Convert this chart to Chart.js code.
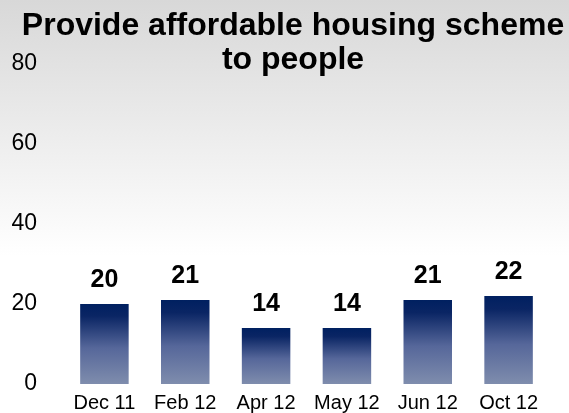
<!DOCTYPE html>
<html>
<head>
<meta charset="utf-8">
<script src="https://cdn.jsdelivr.net/npm/chart.js@4"></script>
<style>
  html, body { margin: 0; padding: 0; background: #fff; overflow: hidden; }
  canvas { display: block; }
</style>
</head>
<body>
<canvas id="chart" width="569" height="413"></canvas>
<script>
var categories = ['Dec 11', 'Feb 12', 'Apr 12', 'May 12', 'Jun 12', 'Oct 12'];
var values = [20, 21, 14, 14, 21, 22];
var yTicks = [0, 20, 40, 60, 80];
var titleLines = ['Provide affordable housing scheme', 'to people'];

var fontFamily = '"Liberation Sans", Arial, sans-serif';

var backgroundPlugin = {
  id: 'bgGradient',
  beforeDraw: function (chart) {
    var ctx = chart.ctx;
    var g = ctx.createLinearGradient(0, 0, 0, chart.height);
    g.addColorStop(0, '#d8d8d8');
    g.addColorStop(0.62, '#ffffff');
    g.addColorStop(1, '#ffffff');
    ctx.save();
    ctx.fillStyle = g;
    ctx.fillRect(0, 0, chart.width, chart.height);
    ctx.restore();
  }
};

var titlePlugin = {
  id: 'twoLineTitle',
  afterDraw: function (chart) {
    var ctx = chart.ctx;
    ctx.save();
    ctx.fillStyle = '#000';
    ctx.font = 'bold 32px ' + fontFamily;
    ctx.textAlign = 'center';
    ctx.textBaseline = 'alphabetic';
    ctx.fillText(titleLines[0], 293, 35);
    ctx.fillText(titleLines[1], 293, 69);
    ctx.restore();
  }
};

var valueLabelPlugin = {
  id: 'valueLabels',
  afterDatasetsDraw: function (chart) {
    var ctx = chart.ctx;
    var meta = chart.getDatasetMeta(0);
    ctx.save();
    ctx.fillStyle = '#000';
    ctx.font = 'bold 25px ' + fontFamily;
    ctx.textAlign = 'center';
    ctx.textBaseline = 'alphabetic';
    meta.data.forEach(function (bar, i) {
      ctx.fillText(String(values[i]), bar.x, bar.y - 17);
    });
    ctx.restore();
  }
};

// each bar gets its own dark-top gradient
function barGradient(context) {
  var chart = context.chart;
  var y = chart.scales && chart.scales.y;
  if (!chart.chartArea || !y || context.raw === undefined) {
    return '#1a2f6b';
  }
  var top = y.getPixelForValue(context.raw);
  var bottom = y.getPixelForValue(0);
  if (!isFinite(top) || !isFinite(bottom) || top === bottom) {
    return '#1a2f6b';
  }
  var g = chart.ctx.createLinearGradient(0, top, 0, bottom);
  g.addColorStop(0, '#002060');
  g.addColorStop(0.15, '#0a2564');
  g.addColorStop(0.55, '#56679a');
  g.addColorStop(1, '#7f8dad');
  return g;
}

new Chart(document.getElementById('chart'), {
  type: 'bar',
  data: {
    labels: categories,
    datasets: [{
      data: values,
      backgroundColor: barGradient,
      borderWidth: 0,
      barPercentage: 0.6,
      categoryPercentage: 1
    }]
  },
  options: {
    responsive: false,
    animation: false,
    layout: { padding: { top: 64, right: 20, left: 0, bottom: 0 } },
    plugins: {
      legend: { display: false },
      title: { display: false },
      tooltip: { enabled: false }
    },
    scales: {
      x: {
        grid: { display: false, drawTicks: false },
        border: { display: false },
        afterFit: function (scale) {
          scale.height = 29;
        },
        ticks: {
          color: '#000',
          font: { family: fontFamily, size: 20 },
          padding: 7,
          maxRotation: 0
        }
      },
      y: {
        min: 0,
        max: 80,
        afterBuildTicks: function (scale) {
          scale.ticks = yTicks.map(function (v) { return { value: v }; });
        },
        afterFit: function (scale) {
          scale.width = 64;
          scale.paddingTop = 0;
          scale.paddingBottom = 0;
        },
        grid: { display: false, drawTicks: false },
        border: { display: false },
        ticks: {
          color: '#000',
          font: { family: fontFamily, size: 23 },
          padding: 27
        }
      }
    }
  },
  plugins: [backgroundPlugin, titlePlugin, valueLabelPlugin]
});
</script>
</body>
</html>
